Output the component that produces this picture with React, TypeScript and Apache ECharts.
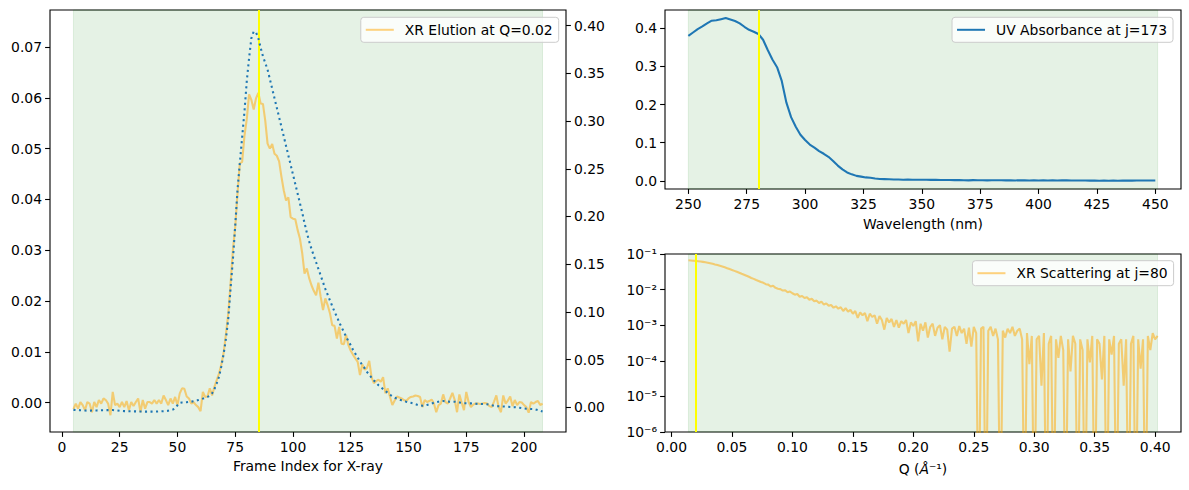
import { useEffect, useRef } from "react";
import * as echarts from "echarts";

const FONT = "DejaVu Sans";
const FS = 13.9;
const ORANGE = "rgba(255,165,0,0.5)";
const BLUE = "#1f77b4";
const SPAN_FILL = "rgba(0,128,0,0.1)";
const MARKER = "#ffff00";

// ---- Elution panel: X-ray frame index 5..208 ----
const frameStart = 5;
// XR elution intensity at Q=0.02 (left axis), frames 5..208
const xrElution = [
  -0.0013, -0.0002, -0.0012, 0.0001, -0.0005, -0.0015, 0.0001, -0.0002, -0.0019, 0.0001,
  -0.0009, 0.0005, -0.0002, 0.0008, 0.0005, -0.0002, -0.0025, 0.0021, -0.0005, -0.0002,
  -0.0009, 0.0001, -0.0009, 0.0003, -0.0015, 0.0001, -0.0007, 0.0001, 0.0008, -0.0019,
  0.0005, -0.0012, 0.0001, 0.0001, -0.0002, 0.0005, -0.0002, 0.0005, -0.0002, 0.0014,
  0.0005, -0.0005, 0.0008, -0.0002, 0.0011, -0.0005, 0.0018, 0.0028, 0.0027, 0.0012,
  0.0008, -0.0002, 0.0001, -0.0005, -0.0009, -0.0017, 0.0021, 0.0011, 0.0012, 0.0028,
  0.0014, 0.0031, 0.0044, 0.0057, 0.0075, 0.0098, 0.0135, 0.0175, 0.0235, 0.03,
  0.0346, 0.0412, 0.0471, 0.0474, 0.0525, 0.0558, 0.0607, 0.0596, 0.0577, 0.0599,
  0.061, 0.0589, 0.0588, 0.0555, 0.051, 0.05, 0.0509, 0.049, 0.0486, 0.0475,
  0.0445, 0.0418, 0.0398, 0.0404, 0.0365, 0.0362, 0.0361, 0.034, 0.0323, 0.0294,
  0.0254, 0.0264, 0.0245, 0.0231, 0.022, 0.0211, 0.0236, 0.0208, 0.0182, 0.0205,
  0.0192, 0.0176, 0.0152, 0.0151, 0.0126, 0.0149, 0.0116, 0.0115, 0.0133, 0.0113,
  0.0102, 0.0094, 0.0087, 0.008, 0.0054, 0.0075, 0.0065, 0.0068, 0.0082, 0.005,
  0.0038, 0.0042, 0.0045, 0.0041, 0.005, 0.0018, 0.0028, 0.0011, -0.0005, 0.0004,
  0.0012, 0.001, 0.0008, 0.0005, 0.0003, 0.0008, 0.0011, 0.0012, 0.0014, 0.0013,
  0.0011, -0.0009, 0.0005, 0.0001, 0.0003, 0.0006, -0.0002, -0.0019, -0.0005, -0.0002,
  0.0016, 0.0001, -0.0002, 0.0008, 0.0019, 0.0005, -0.0019, 0.0016, 0.0, -0.0015,
  0.0021, 0.0001, -0.0009, -0.0004, -0.0002, -0.0002, -0.0003, -0.0002, -0.0001, -0.0002,
  -0.0007, -0.0009, 0.0002, 0.0014, -0.0009, -0.0019, 0.0014, -0.0002, 0.0004, 0.0012,
  -0.0007, 0.0005, -0.0005, 0.0001, 0.0, -0.0005, -0.0009, -0.002, 0.0001, -0.0002,
  0.0001, 0.0003, -0.0005, -0.0002,
];
// UV elution (right axis), same frames
const uvElution = [
  -0.0028, -0.003, -0.003, -0.0032, -0.0033, -0.0035, -0.0036, -0.0036, -0.0035, -0.0034,
  -0.0034, -0.0033, -0.0032, -0.0032, -0.0031, -0.0031, -0.003, -0.003, -0.0032, -0.0035,
  -0.0038, -0.004, -0.0041, -0.0042, -0.0043, -0.0043, -0.0044, -0.0044, -0.0045, -0.0045,
  -0.0045, -0.0046, -0.0046, -0.0046, -0.0046, -0.0045, -0.0045, -0.0044, -0.0043, -0.0042,
  -0.004, -0.0037, -0.0033, -0.0025, -0.0012, 0.002, 0.0045, 0.005, 0.005, 0.0052,
  0.0055, 0.0058, 0.0062, 0.0068, 0.0075, 0.0082, 0.009, 0.0098, 0.0108, 0.012,
  0.0145, 0.019, 0.025, 0.032, 0.043, 0.056, 0.072, 0.093, 0.125, 0.155,
  0.19, 0.228, 0.256, 0.283, 0.31, 0.342, 0.366, 0.387, 0.394, 0.393,
  0.387, 0.377, 0.368, 0.361, 0.354, 0.344, 0.334, 0.324, 0.314, 0.304,
  0.294, 0.284, 0.274, 0.264, 0.254, 0.244, 0.234, 0.224, 0.214, 0.204,
  0.193, 0.183, 0.174, 0.166, 0.159, 0.152, 0.145, 0.138, 0.131, 0.124,
  0.118, 0.112, 0.106, 0.1, 0.095, 0.089, 0.084, 0.079, 0.074, 0.069,
  0.065, 0.06, 0.056, 0.052, 0.048, 0.044, 0.041, 0.037, 0.034, 0.031,
  0.028, 0.026, 0.023, 0.021, 0.019, 0.017, 0.015, 0.013, 0.0115, 0.01,
  0.009, 0.008, 0.0072, 0.0065, 0.0058, 0.0052, 0.0046, 0.004, 0.0032, 0.0024,
  0.0018, 0.0016, 0.0018, 0.0024, 0.0031, 0.0038, 0.0046, 0.0052, 0.0058, 0.0064,
  0.0065, 0.0062, 0.0059, 0.0058, 0.0058, 0.0058, 0.0055, 0.005, 0.0044, 0.0042,
  0.0042, 0.0041, 0.004, 0.0038, 0.0036, 0.0035, 0.0034, 0.0033, 0.0032, 0.0031,
  0.0027, 0.002, 0.0015, 0.0012, 0.001, 0.0009, 0.0008, 0.0007, 0.0005, 0.0003,
  0.0001, 0.0, -0.0003, -0.0006, -0.001, -0.0014, -0.0016, -0.0018, -0.0019, -0.002,
  -0.0023, -0.003, -0.0038, -0.0046,
];
const elutionRange = [5, 208];
const elutionMarker = 85;
const frameTicks = [0, 25, 50, 75, 100, 125, 150, 175, 200];
const elutionLeftTicks = [0, 0.01, 0.02, 0.03, 0.04, 0.05, 0.06, 0.07];
const elutionRightTicks = [0, 0.05, 0.1, 0.15, 0.2, 0.25, 0.3, 0.35, 0.4];

// ---- UV absorbance spectrum, 250..450 nm every 2 nm ----
const wavelengthStart = 250;
const wavelengthStep = 2;
const uvAbsorbance = [
  0.38, 0.389, 0.398, 0.405, 0.413, 0.42, 0.421, 0.424, 0.427, 0.423,
  0.419, 0.413, 0.404, 0.396, 0.391, 0.385, 0.37, 0.343, 0.318, 0.298,
  0.262, 0.205, 0.167, 0.142, 0.121, 0.107, 0.095, 0.087, 0.078, 0.071,
  0.063, 0.052, 0.04, 0.03, 0.022, 0.017, 0.013, 0.011, 0.009, 0.008,
  0.006, 0.005, 0.0045, 0.004, 0.0035,
  0.0035, 0.003, 0.0032, 0.0028, 0.003, 0.0027, 0.0029, 0.0025, 0.0026, 0.0022,
  0.0021, 0.0024, 0.0019, 0.0022, 0.0016, 0.0013, 0.0018, 0.0015, 0.0017, 0.0012,
  0.0016, 0.0014, 0.0015, 0.0012, 0.0014, 0.0011, 0.0015, 0.0013, 0.001, 0.0012,
  0.0011, 0.0013, 0.001, 0.0014, 0.0011, 0.0015, 0.0013, 0.0009, 0.0011, 0.0008,
  0.001, 0.0006, 0.0008, 0.0004, 0.0006, 0.0003, 0.0007, 0.0004, 0.0006, 0.0008,
  0.0005, 0.0009, 0.0007, 0.001, 0.0008, 0.0011,
];
const wavelengthRange = [250, 451];
const wavelengthMarker = 280;
const wavelengthTicks = [250, 275, 300, 325, 350, 375, 400, 425, 450];
const absorbanceTicks = [0, 0.1, 0.2, 0.3, 0.4];

// ---- XR scattering curve, Q = 0.014..0.402 every 0.002 ----
const qStart = 0.014;
const qStep = 0.002;
const xrScattering = [
  0.0665, 0.066, 0.065, 0.064, 0.0628, 0.0615, 0.06, 0.0585, 0.0568, 0.055,
  0.053, 0.0508, 0.0488, 0.0466, 0.0445, 0.0422, 0.04, 0.0378, 0.0357, 0.0336,
  0.0316, 0.0297, 0.0278, 0.0262, 0.0245, 0.0229, 0.0212, 0.02, 0.0186, 0.0175,
  0.0163, 0.0155, 0.0142, 0.0138, 0.0122, 0.0128, 0.0112, 0.0106, 0.0103, 0.0094,
  0.0096, 0.0084, 0.0088, 0.0079, 0.0072, 0.0075, 0.0063, 0.0066, 0.0058, 0.0061,
  0.0052, 0.0055, 0.0047, 0.0049, 0.0042, 0.0046, 0.0038, 0.0041, 0.0035, 0.0037,
  0.0031, 0.0034, 0.0029, 0.0032, 0.0025, 0.003, 0.0024, 0.0027, 0.0021, 0.0025,
  0.0016, 0.0023, 0.0019, 0.0022, 0.0013, 0.0021, 0.0017, 0.0019, 0.0011, 0.0018,
  0.0014, 0.00075, 0.0016, 0.0012, 0.0015, 0.0009, 0.0014, 0.00085, 0.0013, 0.0011,
  0.0014, 0.0006, 0.0012, 0.00095, 0.0013, 0.00035, 0.0011, 0.0007, 0.0012, 0.00045,
  0.0009, 0.0011, 0.0005, 0.00085, 0.001, 0.0004, 0.0009, 0.00075, 0.00018, 0.0008,
  0.0009, 0.0005, 0.00095, 0.0006, 0.0008, 0.0003, 0.00085, 0.00025, 0.0009, 0.0006,
  -0.0002, 0.0008, 0.0009, -0.0001, 0.0007, 0.0009, 0.0005, 0.0008, 0.0004, -0.0003,
  0.0007, 0.00045, 0.0008, 0.0006, 0.0009, 0.0005, 0.0007, 0.0008, 0.0004, -0.0002,
  0.0006, 0.00008, 0.0005, -0.0003, 0.0004, 0.0005, 0.00002, 0.0006, -0.0004, 0.0003,
  0.0005, -0.0001, 0.0004, 0.00012, 0.0005, 0.0002, -0.0002, 0.0004, 0.00005, 0.0005,
  0.0003, -0.0003, 0.0004, 0.0002, -0.0001, 0.0004, 0.00009, 0.0005, -0.0002, 0.0004,
  0.0003, 0.00003, 0.0005, -0.0004, 0.0004, 0.00015, 0.0005, -0.0001, 0.0003, 0.0004,
  0.00002, 0.0004, -0.0002, 0.0003, 0.0005, -0.0001, 0.0004, 0.00006, 0.0004, -0.0003,
  0.0005, 0.0002, 0.0006, 0.0004, 0.0005,
];
const qRange = [0.014, 0.402];
const qMarker = 0.02;
const qTicks = [0, 0.05, 0.1, 0.15, 0.2, 0.25, 0.3, 0.35, 0.4];
// non-positive intensities fall off the bottom of the log axis
const LOG_FLOOR = 1e-9;

const SUP: Record<string, string> = {
  "-": "\u207b", "0": "\u2070", "1": "\u00b9", "2": "\u00b2", "3": "\u00b3",
  "4": "\u2074", "5": "\u2075", "6": "\u2076", "7": "\u2077", "8": "\u2078", "9": "\u2079",
};
const powLabel = (v: number) =>
  "10" + String(Math.round(Math.log10(v))).split("").map((c) => SUP[c] ?? c).join("");

const textBase = { color: "#000", fontFamily: FONT, fontSize: FS };

function valueAxis(extra: any, ticks: number[] | null, fmt: (v: number) => string) {
  const tick: any = { show: true, length: 4.9, lineStyle: { color: "#000", width: 1.1 } };
  const label: any = { ...textBase, margin: 8, formatter: fmt };
  if (ticks) {
    tick.customValues = ticks;
    label.customValues = ticks;
  }
  return {
    type: "value",
    splitLine: { show: false },
    axisLine: { show: false, onZero: false },
    axisTick: tick,
    axisLabel: label,
    nameTextStyle: { ...textBase },
    ...extra,
  };
}

const span = (range: number[]) => ({
  silent: true,
  itemStyle: { color: SPAN_FILL, borderColor: SPAN_FILL, borderWidth: 1 },
  label: { show: false },
  data: [[{ xAxis: range[0] }, { xAxis: range[1] }]],
});

const vline = (x: number) => ({
  silent: true,
  symbol: ["none", "none"],
  label: { show: false },
  lineStyle: { color: MARKER, width: 2, type: "solid" },
  emphasis: { disabled: true },
  data: [{ xAxis: x }],
});

const legendBase = {
  orient: "vertical",
  backgroundColor: "rgba(255,255,255,0.8)",
  borderColor: "#cccccc",
  borderWidth: 1,
  borderRadius: 3,
  padding: [5, 6, 5, 5],
  itemWidth: 28,
  itemHeight: 2,
  icon: "rect",
  selectedMode: false,
  textStyle: { ...textBase, lineHeight: 15, padding: [0, 0, 0, 6] },
};

function buildOption() {
  const elutionXr = xrElution.map((v, i) => [frameStart + i, v]);
  const elutionUv = uvElution.map((v, i) => [frameStart + i, v]);
  const spectrum = uvAbsorbance.map((v, i) => [wavelengthStart + i * wavelengthStep, v]);
  const scattering = xrScattering.map((v, i) => [
    +(qStart + i * qStep).toFixed(4),
    v > 0 ? v : LOG_FLOOR,
  ]);

  const frameBorder = { show: true, borderColor: "#000", borderWidth: 1.1, backgroundColor: "transparent" };

  return {
    animation: false,
    backgroundColor: "#fff",
    grid: [
      { left: 50, top: 10, width: 516, height: 422, ...frameBorder },
      { left: 665, top: 10, width: 516, height: 179, ...frameBorder },
      { left: 665, top: 254, width: 516, height: 178, ...frameBorder },
    ],
    xAxis: [
      valueAxis(
        { gridIndex: 0, min: -5.15, max: 218.15, name: "Frame Index for X-ray", nameLocation: "middle", nameGap: 27 },
        frameTicks,
        (v) => String(v)
      ),
      valueAxis(
        { gridIndex: 1, min: 240, max: 461, name: "Wavelength (nm)", nameLocation: "middle", nameGap: 28 },
        wavelengthTicks,
        (v) => String(v)
      ),
      valueAxis(
        {
          gridIndex: 2,
          min: -0.0054,
          max: 0.4214,
          name: "Q ({it|\u00c5}\u207b\u00b9)",
          nameLocation: "middle",
          nameGap: 30,
          nameTextStyle: { ...textBase, rich: { it: { ...textBase, fontStyle: "italic" } } },
        },
        qTicks,
        (v) => v.toFixed(2)
      ),
    ],
    yAxis: [
      valueAxis({ gridIndex: 0, position: "left", min: -0.0058, max: 0.0773 }, elutionLeftTicks, (v) => v.toFixed(2)),
      valueAxis({ gridIndex: 0, position: "right", min: -0.026, max: 0.4165 }, elutionRightTicks, (v) => v.toFixed(2)),
      valueAxis({ gridIndex: 1, min: -0.0214, max: 0.448 }, absorbanceTicks, (v) => v.toFixed(1)),
      {
        ...valueAxis({ gridIndex: 2 }, null, powLabel),
        type: "log",
        logBase: 10,
        min: 1e-6,
        max: 1e-1,
      },
    ],
    legend: [
      {
        ...legendBase,
        right: 1189 - 558.7,
        top: 17.3,
        data: [{ name: "XR Elution at Q=0.02", itemStyle: { color: ORANGE } }],
      },
      {
        ...legendBase,
        right: 1189 - 1173,
        top: 17.3,
        data: [{ name: "UV Absorbance at j=173", itemStyle: { color: BLUE } }],
      },
      {
        ...legendBase,
        right: 1189 - 1173.6,
        top: 260.7,
        data: [{ name: "XR Scattering at j=80", itemStyle: { color: ORANGE } }],
      },
    ],
    series: [
      {
        name: "XR Elution at Q=0.02",
        type: "line",
        xAxisIndex: 0,
        yAxisIndex: 0,
        data: elutionXr,
        showSymbol: false,
        lineStyle: { color: ORANGE, width: 2.08 },
        itemStyle: { color: ORANGE },
        markArea: span(elutionRange),
        markLine: vline(elutionMarker),
        z: 2,
      },
      {
        name: "UV Elution",
        type: "line",
        xAxisIndex: 0,
        yAxisIndex: 1,
        data: elutionUv,
        showSymbol: false,
        lineStyle: { color: BLUE, width: 2.08, type: [2.08, 3.43], cap: "butt" },
        itemStyle: { color: BLUE },
        z: 6,
      },
      {
        name: "UV Absorbance at j=173",
        type: "line",
        xAxisIndex: 1,
        yAxisIndex: 2,
        data: spectrum,
        showSymbol: false,
        lineStyle: { color: BLUE, width: 2.08 },
        itemStyle: { color: BLUE },
        markArea: span(wavelengthRange),
        markLine: vline(wavelengthMarker),
      },
      {
        name: "XR Scattering at j=80",
        type: "line",
        xAxisIndex: 2,
        yAxisIndex: 3,
        data: scattering,
        showSymbol: false,
        clip: true,
        lineStyle: { color: ORANGE, width: 2.08 },
        itemStyle: { color: ORANGE },
        markArea: span(qRange),
        markLine: vline(qMarker),
      },
    ],
  };
}

export default function App() {
  const ref = useRef<HTMLDivElement>(null);
  useEffect(() => {
    if (!ref.current) return;
    const chart = echarts.init(ref.current, null, { renderer: "svg" });
    chart.setOption(buildOption() as any);
    return () => chart.dispose();
  }, []);
  return (
    <div
      ref={ref}
      style={{ position: "absolute", left: 0, top: 0, width: 1189, height: 490, background: "#fff" }}
    />
  );
}
